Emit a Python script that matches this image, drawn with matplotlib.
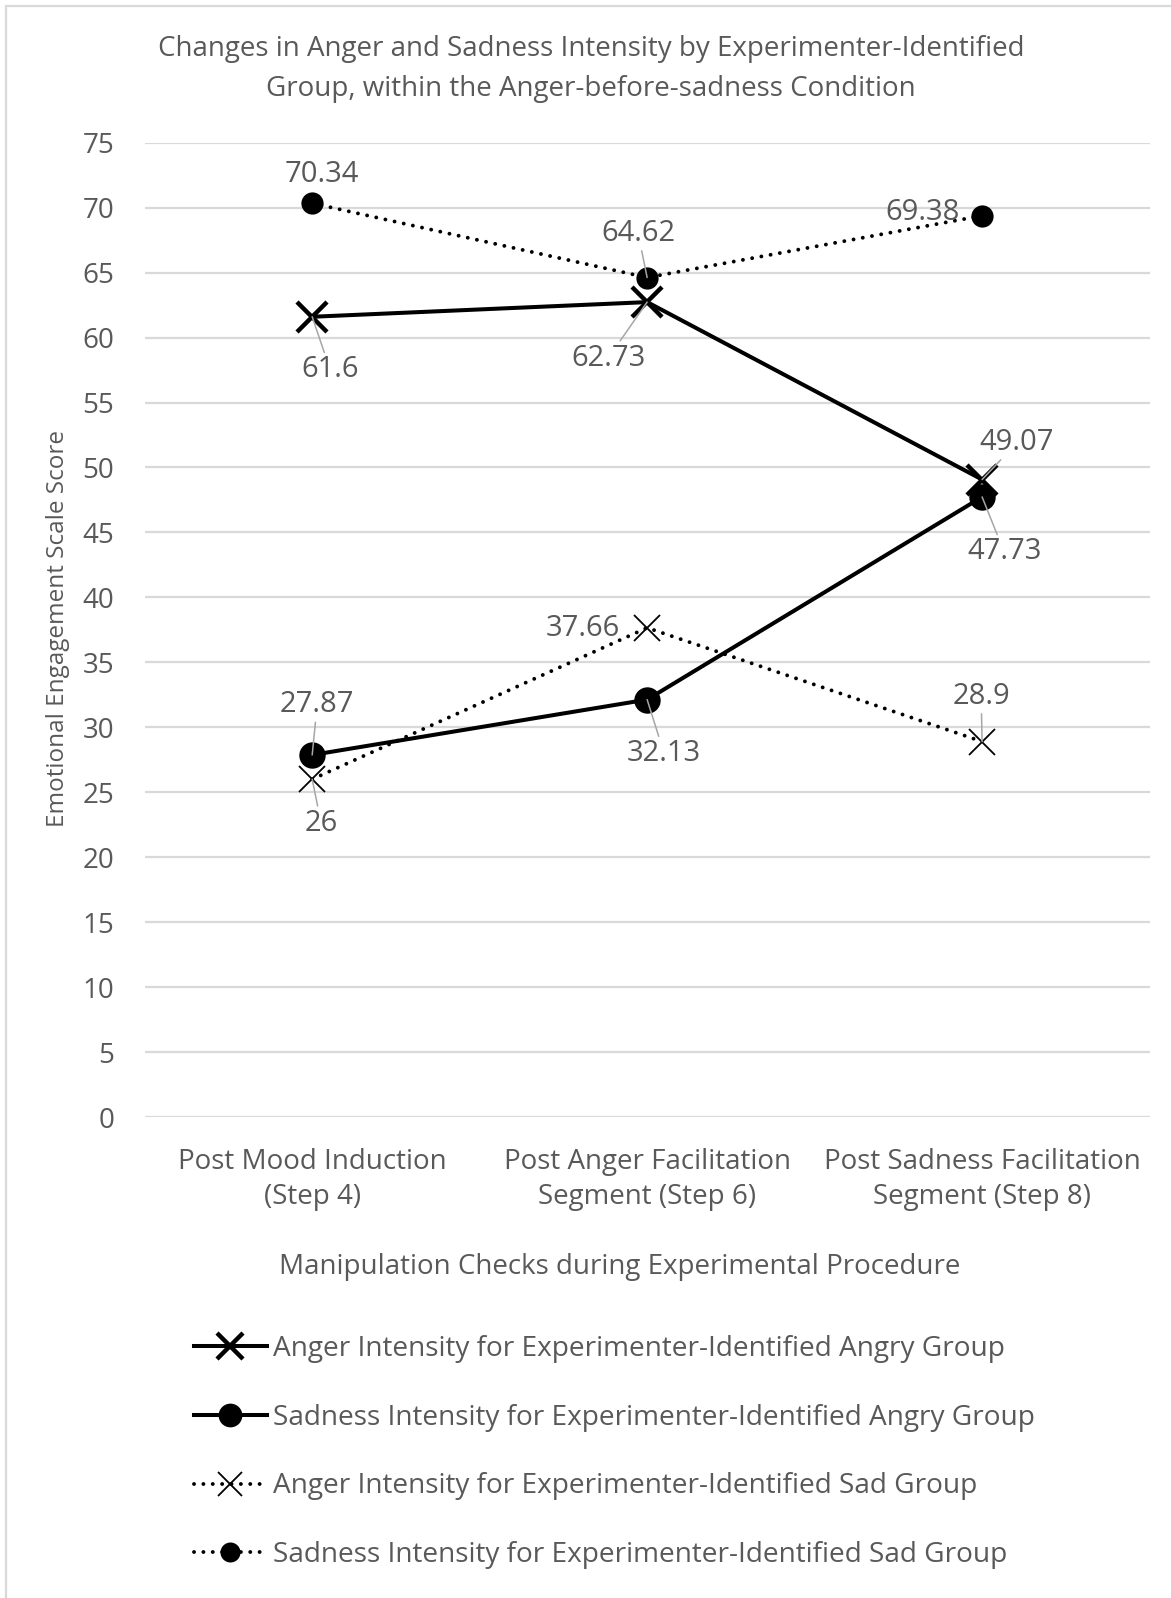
import matplotlib
matplotlib.use("Agg")
import matplotlib.pyplot as plt
from matplotlib.patches import Rectangle

plt.rcParams["font.family"] = ["Open Sans", "DejaVu Sans"]

# ---- data ----
categories = [
    "Post Mood Induction\n(Step 4)",
    "Post Anger Facilitation\nSegment (Step 6)",
    "Post Sadness Facilitation\nSegment (Step 8)",
]
anger_angry_group = [61.6, 62.73, 49.07]
sadness_angry_group = [27.87, 32.13, 47.73]
anger_sad_group = [26, 37.66, 28.9]
sadness_sad_group = [70.34, 64.62, 69.38]

series_names = [
    "Anger Intensity for Experimenter-Identified Angry Group",
    "Sadness Intensity for Experimenter-Identified Angry Group",
    "Anger Intensity for Experimenter-Identified Sad Group",
    "Sadness Intensity for Experimenter-Identified Sad Group",
]
y_ticks = list(range(0, 80, 5))

title = ("Changes in Anger and Sadness Intensity by Experimenter-Identified\n"
         "Group, within the Anger-before-sadness Condition")
x_title = "Manipulation Checks during Experimental Procedure"
y_title = "Emotional Engagement Scale Score"

# ---- styling ----
TEXT = "#595959"
GRID = "#D9D9D9"
LEADER = "#A6A6A6"
W, H, DPI = 1171, 1598, 100

fig = plt.figure(figsize=(W / DPI, H / DPI), dpi=DPI)
fig.patch.set_facecolor("white")

# chart-area border
fig.add_artist(Rectangle((6 / W, -0.01), 1.05, 1 - 6 / H + 0.01,
                         transform=fig.transFigure, fill=False,
                         edgecolor=GRID, lw=1.6))

ax = fig.add_axes([144.7 / W, 1 - 1117 / H, (1149.6 - 144.7) / W, (1117 - 142.7) / H])
xs = list(range(len(categories)))

dots = (0, (0.01, 2.4))
styles = [
    dict(ls="-", lw=2.9, marker="x", ms=21, mew=3.2),
    dict(ls="-", lw=2.9, marker="o", ms=19, mew=0),
    dict(ls=dots, lw=2.8, marker="x", ms=19, mew=1.3, dash_capstyle="round"),
    dict(ls=dots, lw=2.8, marker="o", ms=16, mew=0, dash_capstyle="round"),
]
all_series = [anger_angry_group, sadness_angry_group, anger_sad_group, sadness_sad_group]

handles = []
for vals, name, st in zip(all_series, series_names, styles):
    h, = ax.plot(xs, vals, color="black", label=name, zorder=3, **st)
    handles.append(h)

# label placement (pixel offsets from each point) and whether a leader line is shown
label_offsets = [
    [(18, -53, True), (-39, -56, True), (35, 37, True)],
    [(5, 50, True), (17, -54, True), (22, -55, True)],
    [(9, -44, True), (-64, -1, False), (-1, 45, True)],
    [(10, 29, False), (-9, 44, True), (-60, 3, False)],
]
for vals, offs in zip(all_series, label_offsets):
    for x, v, (dx, dy, leader) in zip(xs, vals, offs):
        arrow = dict(arrowstyle="-", color=LEADER, lw=1.1, shrinkA=0, shrinkB=0) if leader else None
        ax.annotate(f"{v:g}", xy=(x, v), xytext=(dx, dy), textcoords="offset pixels",
                    ha="center", va="center", fontsize=21, color=TEXT,
                    arrowprops=arrow, zorder=4)

ax.set_xlim(-0.5, len(categories) - 0.5)
ax.set_ylim(0, 75)
ax.set_yticks(y_ticks)
ax.set_xticks(xs)
ax.set_xticklabels(categories, linespacing=1.37)
ax.tick_params(axis="both", length=0, labelsize=20, labelcolor=TEXT)
ax.tick_params(axis="y", pad=22)
ax.tick_params(axis="x", pad=22)
ax.grid(axis="y", color=GRID, lw=1.6, zorder=0)
ax.set_axisbelow(True)
for s in ax.spines.values():
    s.set_visible(False)

fig.text(591 / W, 1 - 69 / H, title, ha="center", va="center", fontsize=20,
         color=TEXT, linespacing=1.55)
fig.text(58 / W, 1 - 629 / H, y_title, ha="center", va="center", rotation=90,
         fontsize=17.5, color=TEXT)
fig.text(620 / W, 1 - 1267 / H, x_title, ha="center", va="center", fontsize=20,
         color=TEXT)

fig.legend(handles=handles, loc="upper left", bbox_to_anchor=(194 / W, 1 - 1335 / H),
           frameon=False, fontsize=20.2, labelcolor=TEXT, handlelength=2.6,
           handletextpad=0.2, labelspacing=1.45, numpoints=1, markerscale=0.9,
           borderaxespad=0, borderpad=0)

fig.savefig("out.png", dpi=DPI)
